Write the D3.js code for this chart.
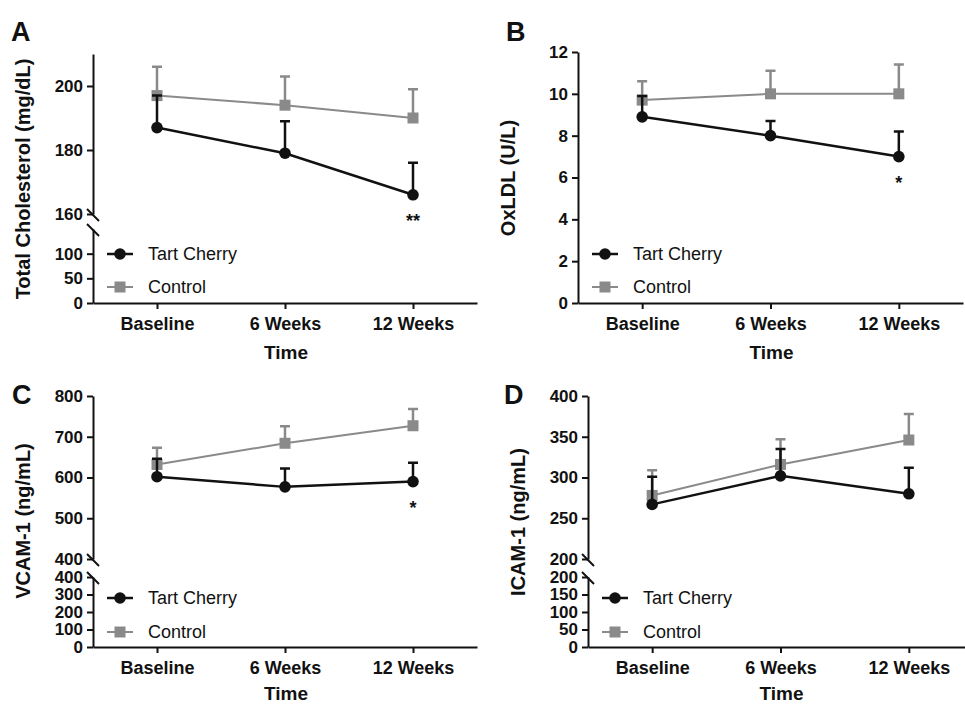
<!DOCTYPE html>
<html>
<head>
<meta charset="utf-8">
<script src="https://cdn.jsdelivr.net/npm/d3@7"></script>
<style>
  body { margin: 0; background: #fff; }
  svg { font-family: "Liberation Sans", Arial, sans-serif; }
</style>
</head>
<body>
<div id="chart"></div>
<script>

// DATA

const times = ['Baseline', '6 Weeks', '12 Weeks'];
const groups = ['Tart Cherry', 'Control'];

// A - total cholesterol
const cholTart = [187, 179, 166];
const cholTartErr = [10, 10, 10];
const cholCtrl = [197, 194, 190];
const cholCtrlErr = [9, 9, 9];
const cholStars = ['', '', '**'];
const cholTicksHigh = [160, 180, 200];
const cholTicksLow = [0, 50, 100];

// B - oxLDL
const oxTart = [8.9, 8.0, 7.0];
const oxTartErr = [1.0, 0.7, 1.2];
const oxCtrl = [9.7, 10.0, 10.0];
const oxCtrlErr = [0.9, 1.1, 1.4];
const oxStars = ['', '', '*'];
const oxTicks = [0, 2, 4, 6, 8, 10, 12];

// C - VCAM-1
const vcamTart = [602, 577, 590];
const vcamTartErr = [44, 45, 46];
const vcamCtrl = [632, 684, 727];
const vcamCtrlErr = [41, 42, 41];
const vcamStars = ['', '', '*'];
const vcamTicksHigh = [400, 500, 600, 700, 800];
const vcamTicksLow = [0, 100, 200, 300, 400];

// D - ICAM-1
const icamTart = [267, 302, 280];
const icamTartErr = [34, 33, 32];
const icamCtrl = [278, 316, 346];
const icamCtrlErr = [31, 31, 32];
const icamStars = ['', '', ''];
const icamTicksHigh = [200, 250, 300, 350, 400];
const icamTicksLow = [0, 50, 100, 150, 200];

// STYLE

const black = '#111';
const grey = '#8a8a8a';

const svg = d3.select('#chart')
    .append('svg')
        .attr('width', 965)
        .attr('height', 705);

function yAxis(g, scale, ticks) {
    g.call(d3.axisLeft(scale).tickValues(ticks).tickSize(6).tickSizeOuter(0).tickPadding(4))
        .call(g => g.select('.domain').attr('stroke', black).attr('stroke-width', 2))
        .call(g => g.selectAll('.tick line').attr('stroke', black).attr('stroke-width', 2))
        .call(g => g.selectAll('.tick text')
            .attr('fill', black)
            .attr('font-family', '"Liberation Sans", Arial, sans-serif')
            .attr('font-size', 17)
            .attr('font-weight', 'bold'));
}

function breakMark(g, x, y) {
    g.append('line')
        .attr('x1', x - 6).attr('y1', y - 6)
        .attr('x2', x + 6).attr('y2', y + 6)
        .attr('stroke', black)
        .attr('stroke-width', 2);
}

function drawPanel(p) {

    const g = svg.append('g');

    const x = d3.scalePoint()
        .domain(times)
        .range([p.left, p.right])
        .padding(0.5);

    // y scales (upper part + optional broken lower part)
    const y = d3.scaleLinear()
        .domain(p.domain)
        .range(p.range);

    g.append('g')
        .attr('transform', `translate(${p.left},0)`)
        .call(yAxis, y, p.ticks);

    if (p.lowDomain) {
        const yLow = d3.scaleLinear()
            .domain(p.lowDomain)
            .range(p.lowRange);
        g.append('g')
            .attr('transform', `translate(${p.left},0)`)
            .call(yAxis, yLow, p.lowTicks);
        breakMark(g, p.left, y(p.domain[0]) + 1);
        breakMark(g, p.left, yLow(p.lowDomain[1]) + 1);
    }

    // x axis
    const xBase = p.lowRange ? p.lowRange[0] : p.range[0];
    g.append('g')
        .attr('transform', `translate(0,${xBase})`)
        .call(d3.axisBottom(x).tickSize(6).tickSizeOuter(0).tickPadding(8))
        .call(g => g.select('.domain').attr('stroke', black).attr('stroke-width', 2))
        .call(g => g.selectAll('.tick line').attr('stroke', black).attr('stroke-width', 2))
        .call(g => g.selectAll('.tick text')
            .attr('fill', black)
            .attr('font-family', '"Liberation Sans", Arial, sans-serif')
            .attr('font-size', 18)
            .attr('font-weight', 'bold'));

    // axis titles + panel letter
    g.append('text')
        .attr('x', (p.left + p.right) / 2 + 1)
        .attr('y', Math.min(xBase + 56, 700))
        .attr('text-anchor', 'middle')
        .attr('font-size', 19)
        .attr('font-weight', 'bold')
        .attr('fill', black)
        .text('Time');

    g.append('text')
        .attr('transform', `translate(${p.left - 63},${p.titleY}) rotate(-90)`)
        .attr('text-anchor', 'middle')
        .attr('font-size', 20)
        .attr('font-weight', 'bold')
        .attr('fill', black)
        .text(p.title);

    g.append('text')
        .attr('x', p.letterX)
        .attr('y', p.letterY)
        .attr('font-size', 27)
        .attr('font-weight', 'bold')
        .attr('fill', black)
        .text(p.letter);

    // series: control first, tart cherry on top
    const series = [
        {vals: p.ctrl, err: p.ctrlErr, color: grey, width: 2, shape: 'square'},
        {vals: p.tart, err: p.tartErr, color: black, width: 2.5, shape: 'circle'}
    ];

    const line = d3.line()
        .x((d, i) => x(times[i]))
        .y(d => y(d));

    series.forEach(s => {
        // upper error bars
        g.append('g')
            .selectAll('path')
            .data(s.vals)
            .join('path')
                .attr('d', (d, i) => {
                    const cx = x(times[i]);
                    const top = y(d + s.err[i]);
                    return `M${cx},${y(d)}V${top}M${cx - 5},${top}H${cx + 5}`;
                })
                .attr('fill', 'none')
                .attr('stroke', s.color)
                .attr('stroke-width', 2.5);

        g.append('path')
            .datum(s.vals)
            .attr('fill', 'none')
            .attr('stroke', s.color)
            .attr('stroke-width', s.width)
            .attr('d', line);

        const m = g.append('g')
            .selectAll('.mk')
            .data(s.vals)
            .join(s.shape === 'circle' ? 'circle' : 'rect')
                .attr('fill', s.color);
        if (s.shape === 'circle') {
            m.attr('cx', (d, i) => x(times[i]))
                .attr('cy', d => y(d))
                .attr('r', 5.8);
        } else {
            m.attr('x', (d, i) => x(times[i]) - 5.5)
                .attr('y', d => y(d) - 5.5)
                .attr('width', 11)
                .attr('height', 11);
        }
    });

    // significance
    g.append('g')
        .selectAll('text')
        .data(p.stars)
        .join('text')
            .attr('x', (d, i) => x(times[i]))
            .attr('y', (d, i) => y(p.tart[i]) + 32)
            .attr('text-anchor', 'middle')
            .attr('font-size', 18)
            .attr('font-weight', 'bold')
            .attr('fill', black)
            .text(d => d);

    // legend
    const lx = p.left + 14;
    const leg = g.append('g')
        .selectAll('g')
        .data(groups)
        .join('g')
            .attr('transform', (d, i) => `translate(${lx},${p.legendY + i * p.legendGap})`);

    leg.append('line')
        .attr('x1', 0).attr('x2', 26)
        .attr('stroke', (d, i) => i === 0 ? black : grey)
        .attr('stroke-width', (d, i) => i === 0 ? 2.5 : 2);

    leg.filter((d, i) => i === 0)
        .append('circle')
            .attr('cx', 13)
            .attr('r', 5.8)
            .attr('fill', black);
    leg.filter((d, i) => i === 1)
        .append('rect')
            .attr('x', 7.5).attr('y', -5.5)
            .attr('width', 11).attr('height', 11)
            .attr('fill', grey);

    leg.append('text')
        .attr('x', 41)
        .attr('dy', '0.35em')
        .attr('font-size', 18)
        .attr('fill', black)
        .text(d => d);
}

drawPanel({
    letter: 'A', letterX: 11, letterY: 41,
    title: 'Total Cholesterol (mg/dL)', titleY: 179,
    left: 93, right: 477,
    domain: [160, 210], range: [214, 54], ticks: cholTicksHigh,
    lowDomain: [0, 150], lowRange: [303, 229], lowTicks: cholTicksLow,
    tart: cholTart, tartErr: cholTartErr, ctrl: cholCtrl, ctrlErr: cholCtrlErr,
    stars: cholStars, legendY: 254, legendGap: 33
});

drawPanel({
    letter: 'B', letterX: 506, letterY: 41,
    title: 'OxLDL (U/L)', titleY: 178,
    left: 578, right: 963,
    domain: [0, 12], range: [303, 52], ticks: oxTicks,
    tart: oxTart, tartErr: oxTartErr, ctrl: oxCtrl, ctrlErr: oxCtrlErr,
    stars: oxStars, legendY: 254, legendGap: 33
});

drawPanel({
    letter: 'C', letterX: 12, letterY: 404,
    title: 'VCAM-1 (ng/mL)', titleY: 521,
    left: 93, right: 477,
    domain: [400, 800], range: [559, 396], ticks: vcamTicksHigh,
    lowDomain: [0, 400], lowRange: [647, 577], lowTicks: vcamTicksLow,
    tart: vcamTart, tartErr: vcamTartErr, ctrl: vcamCtrl, ctrlErr: vcamCtrlErr,
    stars: vcamStars, legendY: 598, legendGap: 34
});

drawPanel({
    letter: 'D', letterX: 504, letterY: 404,
    title: 'ICAM-1 (ng/mL)', titleY: 522,
    left: 588, right: 973,
    domain: [200, 400], range: [559, 396], ticks: icamTicksHigh,
    lowDomain: [0, 200], lowRange: [647, 577], lowTicks: icamTicksLow,
    tart: icamTart, tartErr: icamTartErr, ctrl: icamCtrl, ctrlErr: icamCtrlErr,
    stars: icamStars, legendY: 598, legendGap: 34
});

</script>
</body>
</html>
